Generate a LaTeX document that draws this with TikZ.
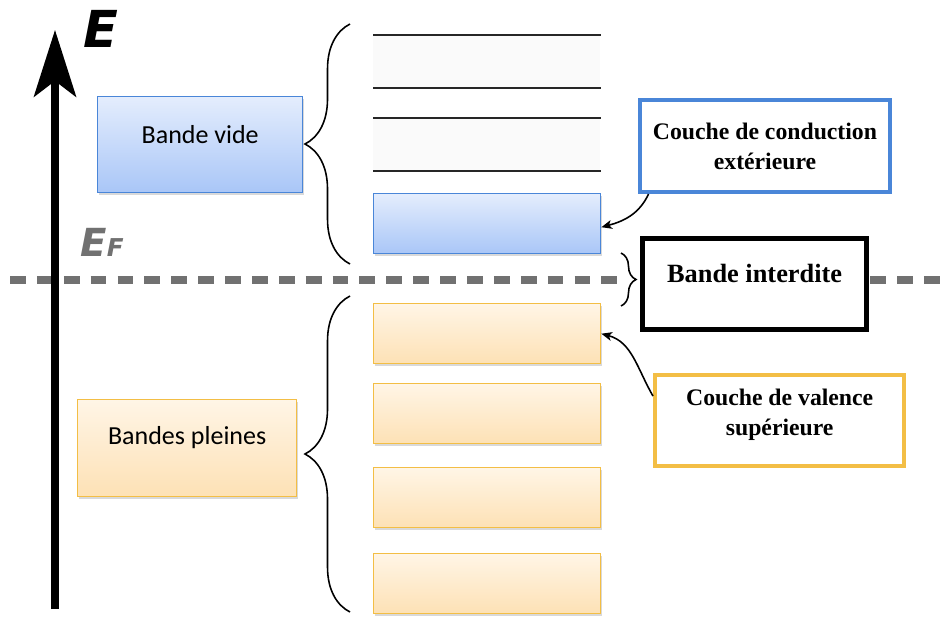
\documentclass[tikz,border=0pt]{standalone}
\usepackage{fontspec}
\setmainfont{Liberation Serif}
\newfontfamily\boxfont{Carlito}
\newfontfamily\axisfont{DejaVu Sans}
\usepackage{tikz}
\usetikzlibrary{arrows.meta,positioning,shadows,decorations.pathreplacing}
\definecolor{videblue}{HTML}{4A86D8}
\definecolor{videtop}{HTML}{E4EDFD}
\definecolor{videbot}{HTML}{A9C6F7}
\definecolor{pleineor}{HTML}{F3BE45}
\definecolor{pleinetop}{HTML}{FFF5E6}
\definecolor{pleinebot}{HTML}{FDE1B5}
\definecolor{fermigray}{HTML}{717171}

\begin{document}
\begin{tikzpicture}[x=0.02cm, y=-0.02cm,
    band/.style={rectangle, anchor=north west, inner sep=0pt, minimum width=4.54cm, minimum height=1.2cm, line width=0.8pt,
      drop shadow={shadow xshift=0.5pt, shadow yshift=-1.4pt, opacity=0.3}},
    vide/.style={band, draw=videblue, top color=videtop, bottom color=videbot},
    pleine/.style={band, draw=pleineor, top color=pleinetop, bottom color=pleinebot},
    lvl/.style={rectangle, anchor=north west, inner sep=0pt, minimum width=4.54cm, minimum height=1.04cm, fill=black!2},
    lvline/.style={line width=1.1pt, black!85},
    tag/.style={font=\boxfont\fontsize{14.8}{17}\selectfont, yshift=6pt},
    callout/.style={rectangle, anchor=north west, inner sep=0pt, fill=white, align=center, font=\bfseries\fontsize{13.5}{17}\selectfont},
    calltxt/.style={align=center, font=\bfseries\fontsize{13.5}{17}\selectfont},
    brc/.style={decorate, decoration={brace, amplitude=#1}, line width=0.9pt},
    link/.style={-{Stealth[length=6pt, width=5pt, inset=1.5pt]}, line width=0.9pt},
    fermi/.style={draw=fermigray, line width=4pt, dash pattern=on 9pt off 6.3pt}
]
    \useasboundingbox (0,0) rectangle (942,616);

    % empty levels above the conduction band
    \node[lvl] (lvlA) at (373,35) {};
    \node[lvl] (lvlB) at (373,118) {};
    \foreach \l in {lvlA,lvlB} {
        \draw[lvline] (\l.north west) -- (\l.north east);
        \draw[lvline] (\l.south west) -- (\l.south east);
    }

    % Fermi level
    \coordinate (fl) at (10,280);
    \coordinate (fr) at (942,280);
    \draw[fermi] (fl) -- (fr);
    \fill[white] (621,232) rectangle (642,334);

    % bands
    \node[vide, minimum width=4.1cm, minimum height=1.92cm, label={[tag]center:Bande vide}] (vide) at (97,96) {};
    \node[vide] (cbande) at (373,193) {};
    \node[pleine, minimum width=4.38cm, minimum height=1.94cm, label={[tag]center:Bandes pleines}] (pleines) at (77,399) {};
    \node[pleine] (vb1) at (373,303) {};
    \node[pleine] (vb2) at (373,383) {};
    \node[pleine] (vb3) at (373,467) {};
    \node[pleine] (vb4) at (373,553) {};

    % callouts
    \node[callout, draw=videblue, line width=2.3pt, minimum width=5cm, minimum height=1.84cm] (cond) at (638,98) {Couche de conduction\\extérieure};
    \node[callout, draw=black, line width=3pt, minimum width=4.48cm, minimum height=1.82cm,
          label={[calltxt, font=\bfseries\fontsize{15}{18}\selectfont, yshift=6pt]center:Bande interdite}] (gap) at (640,236) {};
    \node[callout, draw=pleineor, line width=2.5pt, minimum width=4.98cm, minimum height=1.82cm,
          label={[calltxt, yshift=3.4pt]center:Couche de valence\\supérieure}] (val) at (653,373) {};

    % braces
    \coordinate (vdbot) at (350,264);
    \coordinate (vdtop) at (350,24);
    \coordinate (plbot) at (350,612);
    \coordinate (pltop) at (350,296);
    \coordinate (gptop) at (621,253);
    \coordinate (gpbot) at (621,306);
    \draw[brc=0.9cm] (vdbot) -- (vdtop);
    \draw[brc=0.9cm] (plbot) -- (pltop);
    \draw[brc=0.3cm] (gptop) -- (gpbot);

    % links
    \draw[link] ([xshift=6pt]cond.south west) to[out=-115, in=15] ([yshift=-2pt]cbande.east);
    \draw[link] ([yshift=14pt]val.west) to[out=120, in=-15] (vb1.east);

    % energy axis
    \coordinate (axbot) at (55,609);
    \coordinate (axtop) at (55,30);
    \draw[line width=4pt, -{Stealth[length=38pt, width=24pt, inset=9pt]}] (axbot) -- (axtop);
    \node[font=\axisfont\bfseries\itshape\fontsize{29}{29}\selectfont] (elab) at (101,29) {E};
    \node[text=fermigray, font=\axisfont\bfseries\itshape] (eflab) at (102,242) {\fontsize{22}{22}\selectfont E\fontsize{14}{14}\selectfont F};
\end{tikzpicture}
\end{document}
